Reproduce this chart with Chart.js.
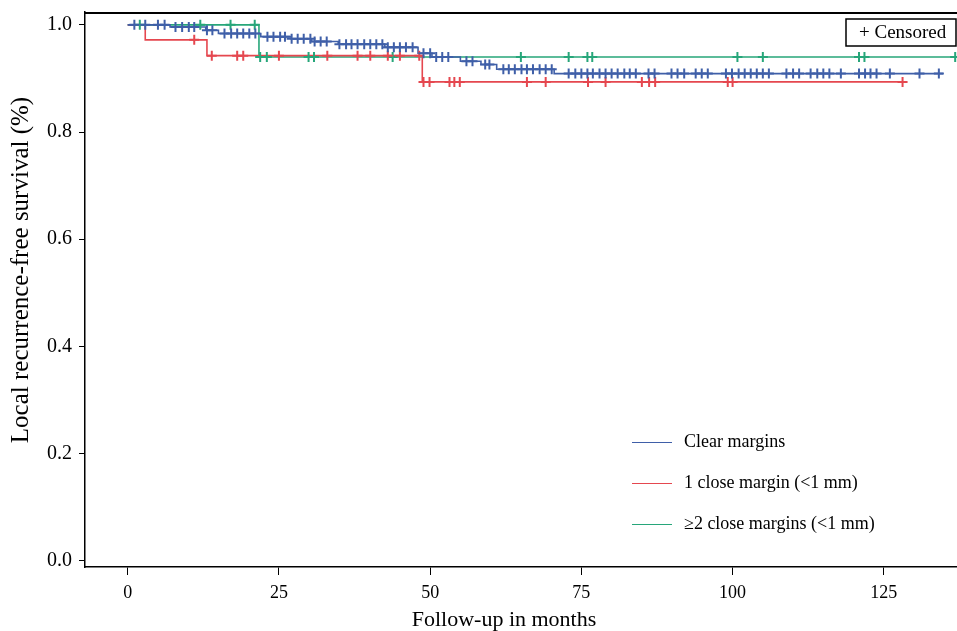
<!DOCTYPE html>
<html lang="en">
<head>
  <meta charset="UTF-8">
  <title>Local recurrence-free survival</title>
  <script src="https://cdn.jsdelivr.net/npm/chart.js"></script>
  <style>
    html, body { margin: 0; padding: 0; background: #fff; }
    #kmChart { display: block; }
  </style>
</head>
<body>
  <canvas id="kmChart" width="957" height="631"></canvas>
  <script>
    // Step functions: month of each drop and survival after it
    const clearStepMonths   = [0, 7.0, 12.9, 15.0, 22.0, 27.0, 30.4, 34.8, 42.5, 48.0, 50.3, 55.0, 58.4, 61.0, 70.5];
    const clearStepSurvival = [1.0, 0.996, 0.990, 0.984, 0.978, 0.974, 0.969, 0.964, 0.958, 0.947, 0.940, 0.932, 0.926, 0.917, 0.909];
    const clearEndMonth = 134.8;
    const clearCensored = [1.1, 2.9, 5.0, 6.1, 7.9, 9.0, 10.1, 11.0, 13.1, 14.0, 16.0, 17.1, 18.1, 19.1, 20.1, 21.1,
      23.1, 24.1, 25.2, 26.0, 27.1, 28.1, 29.1, 30.2, 30.9, 31.9, 32.9, 35.0, 36.1, 37.0, 38.0, 39.1, 40.1, 41.1, 42.1,
      43.0, 44.0, 45.0, 46.0, 47.1, 48.9, 50.0, 51.0, 52.0, 53.0, 56.0, 57.0, 59.1, 59.8, 62.1, 63.0, 64.0, 65.1, 66.0,
      67.0, 68.1, 69.1, 70.1, 72.9, 74.0, 75.0, 76.0, 76.9, 78.0, 79.0, 80.0, 81.0, 82.1, 83.0, 84.0, 86.1, 87.1, 89.9,
      90.9, 92.0, 93.9, 94.9, 95.9, 98.9, 99.9, 101.0, 102.0, 103.0, 104.0, 105.0, 106.0, 108.9, 110.0, 111.0, 112.9,
      114.0, 115.0, 116.0, 117.9, 120.9, 121.9, 122.8, 123.8, 126.0, 130.9, 134.1];

    const oneStepMonths   = [0, 2.9, 13.1, 48.7];
    const oneStepSurvival = [1.0, 0.972, 0.9425, 0.8935];
    const oneEndMonth = 128.5;
    const oneCensored = [11.0, 13.9, 18.1, 19.1, 25.0, 33.0, 38.0, 40.1, 43.0, 45.0, 48.2, 48.9, 49.9, 53.2, 54.0, 54.9,
      66.0, 69.1, 76.1, 79.0, 85.0, 86.2, 87.2, 99.2, 100.0, 128.1];

    const twoStepMonths   = [0, 21.7];
    const twoStepSurvival = [1.0, 0.940];
    const twoEndMonth = 138;
    const twoCensored = [2.0, 12.0, 17.0, 21.0, 21.9, 23.0, 29.9, 30.8, 43.8, 65.0, 72.9, 76.0, 76.8, 100.8, 105.0,
      120.9, 121.8, 136.8];

    const seriesLabels = ['Clear margins', '1 close margin (<1 mm)', '\u22652 close margins (<1 mm)'];
    const seriesColors = ['#3f5fa8', '#e5474f', '#27a67a'];

    const xTicks = [0, 25, 50, 75, 100, 125];
    const yTicks = [0.0, 0.2, 0.4, 0.6, 0.8, 1.0];

    const xTitle = 'Follow-up in months';
    const yTitle = 'Local recurrence-free survival (%)';

    const FONT = "'Liberation Serif', 'Times New Roman', serif";

    // survival value in effect at month t
    const survivalAt = (months, surv, t) => {
      let s = surv[0];
      months.forEach((m, i) => { if (m <= t) s = surv[i]; });
      return s;
    };

    const stepPoints = (months, surv, end) =>
      months.map((m, i) => ({ x: m, y: surv[i] })).concat([{ x: end, y: surv[surv.length - 1] }]);

    const censorPoints = (months, surv, times) =>
      times.map(t => ({ x: t, y: survivalAt(months, surv, t) }));

    const groups = [
      { months: clearStepMonths, surv: clearStepSurvival, end: clearEndMonth, cens: clearCensored },
      { months: oneStepMonths, surv: oneStepSurvival, end: oneEndMonth, cens: oneCensored },
      { months: twoStepMonths, surv: twoStepSurvival, end: twoEndMonth, cens: twoCensored }
    ];

    const datasets = [];
    groups.forEach((g, i) => {
      datasets.push({
        label: seriesLabels[i],
        data: stepPoints(g.months, g.surv, g.end),
        showLine: true,
        stepped: true,
        borderColor: seriesColors[i],
        borderWidth: 1.6,
        pointRadius: 0,
        order: 10 + i
      });
      datasets.push({
        label: seriesLabels[i] + ' censored',
        data: censorPoints(g.months, g.surv, g.cens),
        showLine: false,
        pointStyle: 'cross',
        pointRadius: 5,
        pointBorderWidth: 2,
        pointBorderColor: seriesColors[i],
        borderColor: seriesColors[i],
        order: i
      });
    });

    // frame line on top, axis titles, censored key and the legend inside the plot
    const annotations = {
      id: 'annotations',
      afterDraw(chart) {
        const { ctx, chartArea } = chart;
        ctx.save();
        ctx.strokeStyle = '#000';
        ctx.lineWidth = 2;
        ctx.beginPath();
        ctx.moveTo(chartArea.left, chartArea.top + 1);
        ctx.lineTo(chartArea.right, chartArea.top + 1);
        ctx.stroke();

        ctx.fillStyle = '#000';
        ctx.textBaseline = 'middle';
        ctx.textAlign = 'center';
        ctx.font = '22px ' + FONT;
        ctx.fillText(xTitle, 504, 620);

        ctx.save();
        ctx.translate(21, 270);
        ctx.rotate(-Math.PI / 2);
        ctx.font = '25px ' + FONT;
        ctx.fillText(yTitle, 0, 0);
        ctx.restore();

        ctx.lineWidth = 1.5;
        ctx.strokeRect(846, 19, 110, 27);
        ctx.font = '19px ' + FONT;
        ctx.textAlign = 'left';
        ctx.fillText('+ Censored', 859, 33);

        ctx.font = '18px ' + FONT;
        const rows = [442, 483, 524];
        rows.forEach((y, i) => {
          ctx.strokeStyle = seriesColors[i];
          ctx.lineWidth = 1;
          ctx.beginPath();
          ctx.moveTo(632, y + 0.5);
          ctx.lineTo(672, y + 0.5);
          ctx.stroke();
          ctx.fillText(seriesLabels[i], 684, y);
        });
        ctx.restore();
      }
    };

    const ctx = document.getElementById('kmChart').getContext('2d');
    const chart = new Chart(ctx, {
      type: 'scatter',
      data: { datasets: datasets },
      options: {
        responsive: false,
        animation: false,
        layout: { autoPadding: false, padding: { top: 12, right: 0, left: 0, bottom: 0 } },
        plugins: {
          legend: { display: false },
          tooltip: { enabled: false }
        },
        scales: {
          x: {
            type: 'linear',
            min: -7.06,
            max: 137.1,
            afterBuildTicks: axis => { axis.ticks = xTicks.map(v => ({ value: v })); },
            afterFit: axis => { axis.height = 64; axis.paddingLeft = 0; axis.paddingRight = 0; },
            grid: { drawOnChartArea: false, drawTicks: true, tickLength: 8, color: '#000', lineWidth: 1 },
            border: { display: true, color: '#000', width: 1.5 },
            ticks: { color: '#000', padding: 7, font: { family: FONT, size: 18 } }
          },
          y: {
            min: -0.012,
            max: 1.024,
            afterBuildTicks: axis => { axis.ticks = yTicks.map(v => ({ value: v })); },
            afterFit: axis => { axis.width = 85; axis.paddingTop = 0; axis.paddingBottom = 0; },
            grid: { drawOnChartArea: false, drawTicks: true, tickLength: 6, color: '#000', lineWidth: 1 },
            border: { display: true, color: '#000', width: 1.5 },
            ticks: { color: '#000', padding: 7, font: { family: FONT, size: 20 }, callback: v => v.toFixed(1) }
          }
        }
      },
      plugins: [annotations]
    });
  </script>
</body>
</html>
